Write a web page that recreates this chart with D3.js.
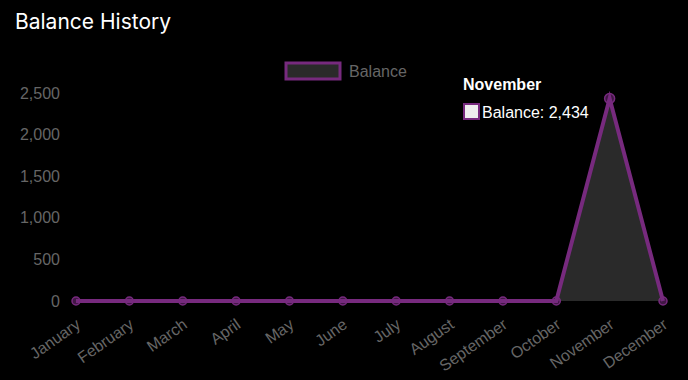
<!DOCTYPE html>
<html>
<head>
<meta charset="utf-8">
<script src="https://cdn.jsdelivr.net/npm/d3@7"></script>
<style>
  body { margin: 0; background: #000; }
  svg { display: block; }
</style>
</head>
<body>
<svg width="688" height="380"></svg>
<script>
let months = ['January', 'February', 'March', 'April', 'May', 'June', 'July',
  'August', 'September', 'October', 'November', 'December']
let balance = [0, 0, 0, 0, 0, 0, 0, 0, 0, 0, 2434, 0]
let yTicks = [0, 500, 1000, 1500, 2000, 2500]
let activeIndex = 10

let purple = '#772a7e'
let labelColor = '#666'
let font = '"Liberation Sans", Arial, sans-serif'

let svg = d3.select('svg')

let x = d3.scalePoint().domain(months).range([76, 663])
let y = d3.scaleLinear().domain([0, 2500]).range([301, 93])

// title
svg.append('text')
  .attr('x', 15).attr('y', 29)
  .attr('fill', '#fff')
  .attr('font-family', 'Inter, "Noto Sans", sans-serif')
  .attr('font-size', 21)
  .text('Balance History')

// legend
svg.append('rect')
  .attr('x', 286).attr('y', 63).attr('width', 54).attr('height', 16)
  .attr('fill', '#2a2a2a').attr('stroke', purple).attr('stroke-width', 3)
svg.append('text')
  .attr('x', 349).attr('y', 77)
  .attr('fill', labelColor).attr('font-family', font).attr('font-size', 16)
  .text('Balance')

// y axis
let yAxis = svg.append('g')
  .attr('transform', 'translate(60,0)')
  .call(d3.axisLeft(y).tickValues(yTicks).tickSize(0).tickPadding(0).tickFormat(d3.format(',')))
yAxis.select('.domain').remove()
yAxis.selectAll('text')
  .attr('fill', labelColor).attr('font-family', font).attr('font-size', 16)

// x axis
let xAxis = svg.append('g')
  .attr('transform', 'translate(0,301)')
  .call(d3.axisBottom(x).tickSize(0).tickPadding(0))
xAxis.select('.domain').remove()
xAxis.selectAll('text')
  .attr('fill', labelColor).attr('font-family', font).attr('font-size', 16)
  .attr('text-anchor', 'end')
  .attr('dy', 0)
  .attr('transform', 'translate(5,26) rotate(-35)')

let data = months.map((m, i) => ({ month: m, value: balance[i] }))

// area
svg.append('path')
  .datum(data)
  .attr('fill', '#2a2a2a')
  .attr('d', d3.area().x(d => x(d.month)).y0(y(0)).y1(d => y(d.value)))

// line
svg.append('path')
  .datum(data)
  .attr('fill', 'none')
  .attr('stroke', purple)
  .attr('stroke-width', 4)
  .attr('stroke-linejoin', 'miter')
  .attr('d', d3.line().x(d => x(d.month)).y(d => y(d.value)))

// points
svg.selectAll('circle.pt')
  .data(data)
  .enter()
  .append('circle')
  .attr('class', 'pt')
  .attr('cx', d => x(d.month))
  .attr('cy', d => y(d.value))
  .attr('r', (d, i) => i === activeIndex ? 5 : 4)
  .attr('fill', 'rgba(119,42,126,0.55)')
  .attr('stroke', purple)
  .attr('stroke-width', 1.5)

// tooltip
let tip = svg.append('g').attr('transform', 'translate(463,0)')
tip.append('text')
  .attr('x', 0).attr('y', 90)
  .attr('fill', '#fff').attr('font-family', font).attr('font-size', 16).attr('font-weight', 'bold')
  .text(months[activeIndex])
tip.append('rect')
  .attr('x', 1).attr('y', 104).attr('width', 15).attr('height', 15)
  .attr('fill', '#eee').attr('stroke', purple).attr('stroke-width', 2)
tip.append('text')
  .attr('x', 19).attr('y', 118)
  .attr('fill', '#fff').attr('font-family', font).attr('font-size', 16)
  .text('Balance: ' + d3.format(',')(balance[activeIndex]))
</script>
</body>
</html>
